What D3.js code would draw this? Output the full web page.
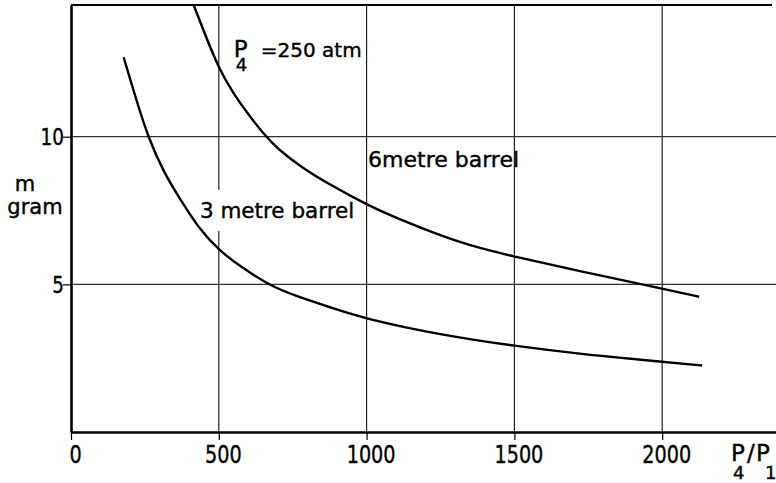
<!DOCTYPE html>
<html>
<head>
<meta charset="utf-8">
<script src="https://cdn.jsdelivr.net/npm/d3@7"></script>
<style>
  body { margin: 0; background: #fff; }
  svg { display: block; }
  text { stroke: #000; stroke-width: 0.4px; }
</style>
</head>
<body>
<div id="chart"></div>
<script>
// Tick values
const xTicks = [0, 500, 1000, 1500, 2000];
const yTicks = [5, 10];

// 6 metre barrel: pressure ratio P4/P1 vs charge mass m (gram)
const ratio6 = [415, 450, 500, 550, 600, 655, 700, 777, 878, 1000, 1100, 1200, 1300, 1400, 1500, 1750, 2000, 2125];
const mass6 = [14.46, 13.55, 12.3, 11.45, 10.75, 10.05, 9.58, 8.98, 8.36, 7.7, 7.25, 6.85, 6.48, 6.18, 5.94, 5.38, 4.86, 4.58];

// 3 metre barrel
const ratio3 = [178, 220, 260, 315, 371, 428, 504, 575, 664, 766, 878, 1000, 1250, 1500, 1750, 2000, 2135];
const mass3 = [12.69, 11.28, 10.0, 8.76, 7.86, 6.95, 6.11, 5.6, 5.0, 4.58, 4.22, 3.82, 3.29, 2.91, 2.61, 2.38, 2.25];

// Set the dimensions and margins of the graph
const width = 776;
const height = 483;
const margin = {left: 71, top: 5, bottom: 51};
const labelFont = "'DejaVu Sans', sans-serif";
// the original digits are narrow, so squeeze DejaVu horizontally
const squeeze = "scale(0.8,1)";

let svg = d3.select("#chart")
            .append("svg")
            .attr("width", width)
            .attr("height", height);

let xScale = d3.scaleLinear()
                .domain([0, 2385])
                .range([margin.left, width]);

let yScale = d3.scaleLinear()
                .domain([0, 14.46])
                .range([height - margin.bottom, margin.top]);

// layers, bottom to top
const gridLayer = svg.append("g");
const maskLayer = svg.append("g");
const curveLayer = svg.append("g");
const axisLayer = svg.append("g");
const textLayer = svg.append("g");

// Grid lines
gridLayer.selectAll(".vgrid")
    .data(xTicks.filter(d => d > 0))
    .join("line")
        .attr("x1", d => xScale(d))
        .attr("x2", d => xScale(d))
        .attr("y1", yScale(14.46))
        .attr("y2", yScale(0))
        .attr("stroke", "#222")
        .attr("stroke-width", 1.2);

gridLayer.selectAll(".hgrid")
    .data(yTicks)
    .join("line")
        .attr("x1", xScale(0))
        .attr("x2", width)
        .attr("y1", d => yScale(d))
        .attr("y2", d => yScale(d))
        .attr("stroke", "#333")
        .attr("stroke-width", 1.2);

// Curves
const line = d3.line()
                .x(d => xScale(d[0]))
                .y(d => yScale(d[1]))
                .curve(d3.curveBasis);

curveLayer.selectAll("path")
    .data([d3.zip(ratio6, mass6), d3.zip(ratio3, mass3)])
    .join("path")
        .attr("d", line)
        .attr("fill", "none")
        .attr("stroke", "#000")
        .attr("stroke-width", 2.4);

// Axes
let xAxis = axisLayer.append("g")
    .attr("transform", `translate(0,${yScale(0)})`)
    .call(d3.axisBottom(xScale).tickValues(xTicks).tickFormat(d3.format("d"))
            .tickSize(8).tickSizeOuter(0));
xAxis.select(".domain").attr("stroke-width", 2.6);
xAxis.selectAll(".tick line").attr("stroke-width", 1.2);
xAxis.selectAll(".tick text")
    .attr("y", 0)
    .attr("dy", 0)
    .attr("transform", `translate(4,31) ${squeeze}`)
    .attr("fill", "#000")
    .style("font-family", labelFont)
    .style("font-size", "24px");

let yAxis = axisLayer.append("g")
    .attr("transform", `translate(${xScale(0)},0)`)
    .call(d3.axisLeft(yScale).tickValues(yTicks).tickSize(8).tickSizeOuter(0));
yAxis.select(".domain").attr("stroke-width", 2.6);
yAxis.selectAll(".tick line").attr("stroke-width", 1.2);
yAxis.selectAll(".tick text")
    .attr("x", 0)
    .attr("dy", "0.36em")
    .attr("transform", `translate(-7,0) ${squeeze}`)
    .attr("fill", "#000")
    .style("font-family", labelFont)
    .style("font-size", "23px");

// Top border of the frame
axisLayer.append("line")
    .attr("x1", xScale(0))
    .attr("x2", width - 4)
    .attr("y1", yScale(14.46))
    .attr("y2", yScale(14.46))
    .attr("stroke", "#000")
    .attr("stroke-width", 2.2);

// Axis titles
textLayer.append("text")
    .attr("x", 25).attr("y", 191)
    .attr("text-anchor", "middle")
    .style("font-family", labelFont).style("font-size", "21px")
    .text("m");
textLayer.append("text")
    .attr("x", 35).attr("y", 214)
    .attr("text-anchor", "middle")
    .style("font-family", labelFont).style("font-size", "21px")
    .text("gram");

// P4/P1 at the end of the x axis
let ratioLabel = textLayer.append("g")
    .attr("transform", "translate(731,461)")
    .style("font-family", labelFont);
ratioLabel.append("text").attr("x", 0).attr("y", 0)
    .style("font-size", "23px").text("P");
ratioLabel.append("text").attr("x", 2).attr("y", 18)
    .style("font-size", "18px").text("4");
ratioLabel.append("text").attr("x", 16).attr("y", 0)
    .style("font-size", "23px").text("/");
ratioLabel.append("text").attr("x", 25).attr("y", 0)
    .style("font-size", "23px").text("P");
ratioLabel.append("text").attr("x", 34).attr("y", 18)
    .style("font-size", "18px").text("1");

// Curve annotations
textLayer.append("text")
    .attr("x", xScale(551)).attr("y", yScale(12.71))
    .style("font-family", labelFont).style("font-size", "23px")
    .text("P");
textLayer.append("text")
    .attr("x", xScale(557)).attr("y", yScale(12.24))
    .style("font-family", labelFont).style("font-size", "18px")
    .text("4");
textLayer.append("text")
    .attr("x", xScale(642)).attr("y", yScale(12.71))
    .style("font-family", labelFont).style("font-size", "20px")
    .text("=250 atm");

textLayer.append("text")
    .attr("x", xScale(1005)).attr("y", yScale(8.98))
    .style("font-family", labelFont).style("font-size", "22px")
    .text("6metre barrel");

let label3 = textLayer.append("text")
    .attr("x", xScale(436)).attr("y", yScale(7.25))
    .style("font-family", labelFont).style("font-size", "21.5px")
    .text("3 metre barrel");

// White patch behind the 3 metre label that breaks the grid line
const box = label3.node().getBBox();
maskLayer.append("rect")
    .attr("x", box.x)
    .attr("y", box.y - 8)
    .attr("width", box.width)
    .attr("height", box.height + 16)
    .attr("fill", "#fff");
</script>
</body>
</html>
